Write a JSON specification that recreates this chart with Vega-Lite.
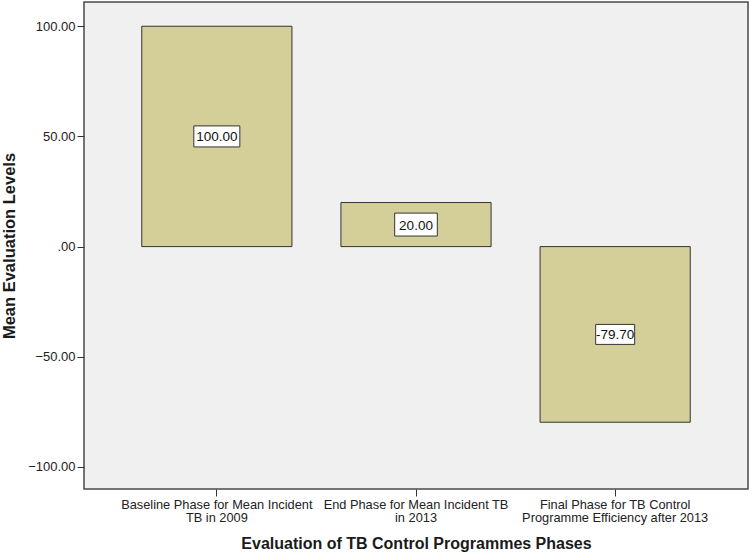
{
  "$schema": "https://vega.github.io/schema/vega-lite/v6.json",
  "autosize": {"type": "none"},
  "padding": {"left": 84, "top": 2, "right": 2, "bottom": 66},
  "width": 664,
  "height": 487,
  "background": "#ffffff",
  "config": {
    "font": "Liberation Sans",
    "view": {"fill": "#f0f0f0", "stroke": "#4a4a4a", "strokeWidth": 1.5}
  },
  "data": {
    "values": [
      {"phase": "Baseline Phase for Mean Incident TB in 2009", "value": 100.0, "label": "100.00"},
      {"phase": "End Phase for Mean Incident TB in 2013", "value": 20.0, "label": "20.00"},
      {"phase": "Final Phase for TB Control Programme Efficiency after 2013", "value": -79.7, "label": "-79.70"}
    ]
  },
  "encoding": {
    "x": {
      "field": "phase",
      "type": "nominal",
      "sort": null,
      "scale": {"paddingInner": 0.246, "paddingOuter": 0.29},
      "axis": {
        "title": "Evaluation of TB Control Programmes Phases",
        "titleFont": "Liberation Sans",
        "titleFontSize": 16,
        "titleFontWeight": "bold",
        "titleColor": "#1a1a1a",
        "titlePadding": 11,
        "labelAngle": 0,
        "labelFontSize": 12.8,
        "labelColor": "#222222",
        "labelPadding": 2,
        "labelLineHeight": 13.5,
        "labelLimit": 300,
        "labelExpr": "datum.value == 'Baseline Phase for Mean Incident TB in 2009' ? ['Baseline Phase for Mean Incident', 'TB in 2009'] : datum.value == 'End Phase for Mean Incident TB in 2013' ? ['End Phase for Mean Incident TB', 'in 2013'] : ['Final Phase for TB Control', 'Programme Efficiency after 2013']",
        "tickSize": 7,
        "tickColor": "#333333",
        "domain": false,
        "grid": false
      }
    }
  },
  "layer": [
    {
      "mark": {"type": "bar", "fill": "#d4cf98", "stroke": "#333333", "strokeWidth": 1, "opacity": 1},
      "encoding": {
        "y": {
          "field": "value",
          "type": "quantitative",
          "scale": {"domain": [-110, 111], "nice": false, "zero": false},
          "axis": {
            "title": "Mean Evaluation Levels",
            "titleFont": "Liberation Sans",
            "titleFontSize": 16.5,
            "titleFontWeight": "bold",
            "titleColor": "#1a1a1a",
            "titlePadding": 10,
            "values": [-100, -50, 0, 50, 100],
            "labelExpr": "datum.value == 0 ? '.00' : format(datum.value, '.2f')",
            "labelFontSize": 13,
            "labelColor": "#222222",
            "labelPadding": 2,
            "tickSize": 7,
            "tickColor": "#333333",
            "domain": false,
            "grid": false
          }
        }
      }
    },
    {
      "transform": [{"calculate": "datum.value / 2", "as": "mid"}],
      "mark": {"type": "point", "filled": true, "fill": "#ffffff", "stroke": "#333333", "strokeWidth": 1, "opacity": 1},
      "encoding": {
        "y": {"field": "mid", "type": "quantitative"},
        "shape": {
          "field": "label",
          "type": "nominal",
          "legend": null,
          "scale": {
            "domain": ["100.00", "20.00", "-79.70"],
            "range": ["M-1,-0.457L1,-0.457L1,0.457L-1,0.457Z", "M-1,-0.538L1,-0.538L1,0.538L-1,0.538Z", "M-1,-0.512L1,-0.512L1,0.512L-1,0.512Z"]
          }
        },
        "size": {
          "field": "label",
          "type": "nominal",
          "legend": null,
          "scale": {"domain": ["100.00", "20.00", "-79.70"], "range": [2116, 1521, 1681]}
        }
      }
    },
    {
      "transform": [{"calculate": "datum.value / 2", "as": "mid"}],
      "mark": {"type": "text", "fontSize": 13.5, "color": "#111111", "baseline": "middle", "align": "center", "dy": 1},
      "encoding": {
        "y": {"field": "mid", "type": "quantitative"},
        "text": {"field": "label"}
      }
    }
  ]
}
